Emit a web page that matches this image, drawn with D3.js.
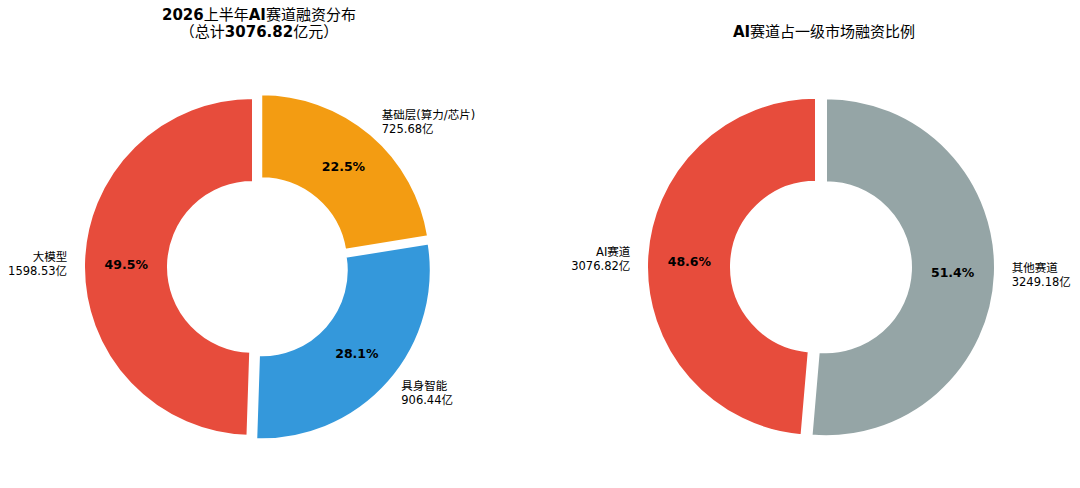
<!DOCTYPE html>
<html>
<head>
<meta charset="utf-8">
<script src="https://cdn.jsdelivr.net/npm/d3@7"></script>
<style>
  body { margin: 0; background: #fff; }
  text { font-family: "DejaVu Sans", "Noto Sans CJK SC", sans-serif; fill: #000; }
</style>
</head>
<body>
<div id="chart"></div>
<script>
// left donut: AI sub-sectors
var leftNames = ["大模型", "具身智能", "基础层(算力/芯片)"];
var leftValues = [1598.53, 906.44, 725.68];
var leftColors = ["#e74c3c", "#3498db", "#f39c12"];

// right donut: AI vs rest of primary market
var rightNames = ["AI赛道", "其他赛道"];
var rightValues = [3076.82, 3249.18];
var rightColors = ["#e74c3c", "#95a5a6"];

// titles split so latin parts are bold and CJK parts regular
var leftTitle1 = [["2026", true], ["上半年", false], ["AI", true], ["赛道融资分布", false]];
var leftTitle2 = [["（总计", false], ["3076.82", true], ["亿元）", false]];
var rightTitle = [["AI", true], ["赛道占一级市场融资比例", false]];

var width = 1080, height = 488;
var R = 169, innerR = 85, explode = 5;

var svg = d3.select("#chart").append("svg")
  .attr("width", width)
  .attr("height", height);

function drawTitle(lines, cx) {
  var t = svg.append("text")
    .attr("x", cx)
    .attr("text-anchor", "middle")
    .style("font-size", "15px");
  var y0 = 32 - (lines.length - 1) * 17;
  lines.forEach(function(line, i) {
    line.forEach(function(part, j) {
      var ts = t.append("tspan")
        .style("font-weight", part[1] ? "bold" : "normal")
        .text(part[0]);
      if (j == 0) ts.attr("x", cx).attr("y", y0 + i * 17).attr("dy", "0.35em");
    });
  });
}

function drawDonut(names, values, colors, cx, cy) {
  var total = d3.sum(values);
  // counter-clockwise from 12 o'clock like matplotlib startangle=90
  var pie = d3.pie().sort(null).startAngle(0).endAngle(-2 * Math.PI);
  var arc = d3.arc().innerRadius(innerR).outerRadius(R);
  var arcs = pie(values);

  var g = svg.append("g").attr("transform", "translate(" + cx + "," + cy + ")");

  var slice = g.selectAll(".slice")
    .data(arcs)
    .enter().append("g")
    .attr("class", "slice")
    .attr("transform", function(d) {
      var m = (d.startAngle + d.endAngle) / 2;
      return "translate(" + (explode * Math.sin(m)) + "," + (-explode * Math.cos(m)) + ")";
    });

  slice.append("path")
    .attr("d", arc)
    .attr("fill", function(d, i) { return colors[i]; })
    .attr("stroke", "#fff")
    .attr("stroke-width", 2);

  // percentage inside the ring
  slice.append("text")
    .attr("transform", function(d) {
      var m = (d.startAngle + d.endAngle) / 2;
      return "translate(" + (0.75 * R * Math.sin(m)) + "," + (-0.75 * R * Math.cos(m)) + ")";
    })
    .attr("text-anchor", "middle")
    .attr("dy", "0.35em")
    .style("font-size", "12.5px")
    .style("font-weight", "bold")
    .text(function(d) { return (d.value / total * 100).toFixed(1) + "%"; });

  // outside labels: name + amount
  var lab = slice.append("text")
    .attr("text-anchor", function(d) {
      var m = (d.startAngle + d.endAngle) / 2;
      return Math.sin(m) > 0 ? "start" : "end";
    })
    .style("font-size", "11.5px");

  lab.each(function(d, i) {
    var m = (d.startAngle + d.endAngle) / 2;
    var x = 1.1 * R * Math.sin(m), y = -1.1 * R * Math.cos(m);
    var el = d3.select(this);
    el.append("tspan").attr("x", x).attr("y", y - 7).attr("dy", "0.35em").text(names[i]);
    el.append("tspan").attr("x", x).attr("y", y + 7).attr("dy", "0.35em").text(d.value.toFixed(2) + "亿");
  });
}

drawTitle([leftTitle1, leftTitle2], 259);
drawTitle([rightTitle], 824);
drawDonut(leftNames, leftValues, leftColors, 258, 267);
drawDonut(rightNames, rightValues, rightColors, 821, 267);
</script>
</body>
</html>
